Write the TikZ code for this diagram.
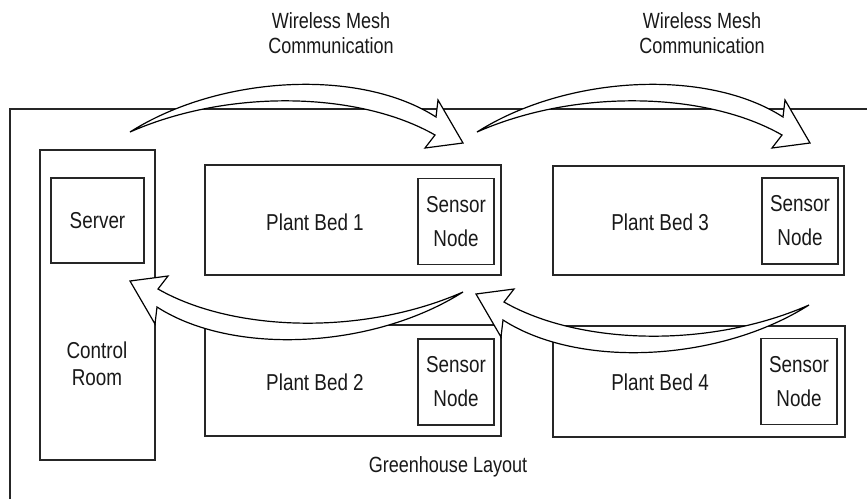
\documentclass[tikz,border=0pt]{standalone}
\usepackage{fontspec}
\setmainfont{Liberation Sans}[FakeStretch=0.82]
\begin{document}
\begin{tikzpicture}[x=1pt, y=-1pt,
  roombox/.style={draw=black!85, line width=1.3pt, fill=white, inner sep=0pt},
  sensorbox/.style={roombox, minimum width=76pt, minimum height=86pt,
    align=center, font=\fontsize{23}{34}\selectfont, text=black!90},
  bedlabel/.style={font=\fontsize{23}{27}\selectfont, text=black!90, align=center},
  toplabel/.style={font=\fontsize{22}{25}\selectfont, text=black!90, align=center},
  arrowline/.style={draw=black, line width=1.2pt, fill=white, line join=miter},
  meshArrow/.pic={
    \path[arrowline] (0,0) .. controls (90,-57) and (230,-64) .. (306,-15)
      -- (308,-32) -- (333,11) -- (295,16) -- (305,3)
      .. controls (230,-40) and (100,-44) .. cycle;
  }]
\useasboundingbox (0,0) rectangle (867,499);

% greenhouse outline (open towards the right and bottom)
\draw[line width=1.1pt, black!85] (10,499) -- (10,109) -- (867,109);

% control room with server
\node[roombox, minimum width=115pt, minimum height=310pt] (room) at (97.5,305) {};
\node[roombox, minimum width=93pt, minimum height=85pt, bedlabel] (server) at (97.5,220.5) {Server};
\node[bedlabel] (roomlabel) at (97,364) {Control\\Room};

% plant beds
\node[roombox, minimum width=296pt, minimum height=110pt] (bed1) at (353,220) {};
\node[roombox, minimum width=291pt, minimum height=109pt] (bed3) at (698.5,220.5) {};
\node[roombox, minimum width=296pt, minimum height=111pt] (bed2) at (353,380.5) {};
\node[roombox, minimum width=292pt, minimum height=111pt] (bed4) at (699,381.5) {};

\node[bedlabel] (bed1label) at (315,222) {Plant Bed 1};
\node[bedlabel] (bed3label) at (660,222) {Plant Bed 3};
\node[bedlabel] (bed2label) at (315,382) {Plant Bed 2};
\node[bedlabel] (bed4label) at (660,382) {Plant Bed 4};

% sensor nodes
\node[sensorbox] (sensor1) at (456,221.5) {Sensor\\Node};
\node[sensorbox] (sensor3) at (800,221) {Sensor\\Node};
\node[sensorbox] (sensor2) at (456,382) {Sensor\\Node};
\node[sensorbox] (sensor4) at (799,381.5) {Sensor\\Node};

% wireless mesh links
\coordinate (link1) at (130,132);
\coordinate (link2) at (477,132);
\coordinate (link3) at (463,292);
\coordinate (link4) at (809,305);
\pic at (link1) {meshArrow};
\pic at (link2) {meshArrow};
\pic[rotate=180] at (link3) {meshArrow};
\pic[rotate=180] at (link4) {meshArrow};

% captions
\node[toplabel] (mesh1) at (331,33) {Wireless Mesh\\Communication};
\node[toplabel] (mesh2) at (702,33) {Wireless Mesh\\Communication};
\node[bedlabel, font=\fontsize{22}{25}\selectfont] (layout) at (448,467) {Greenhouse Layout};
\end{tikzpicture}
\end{document}
